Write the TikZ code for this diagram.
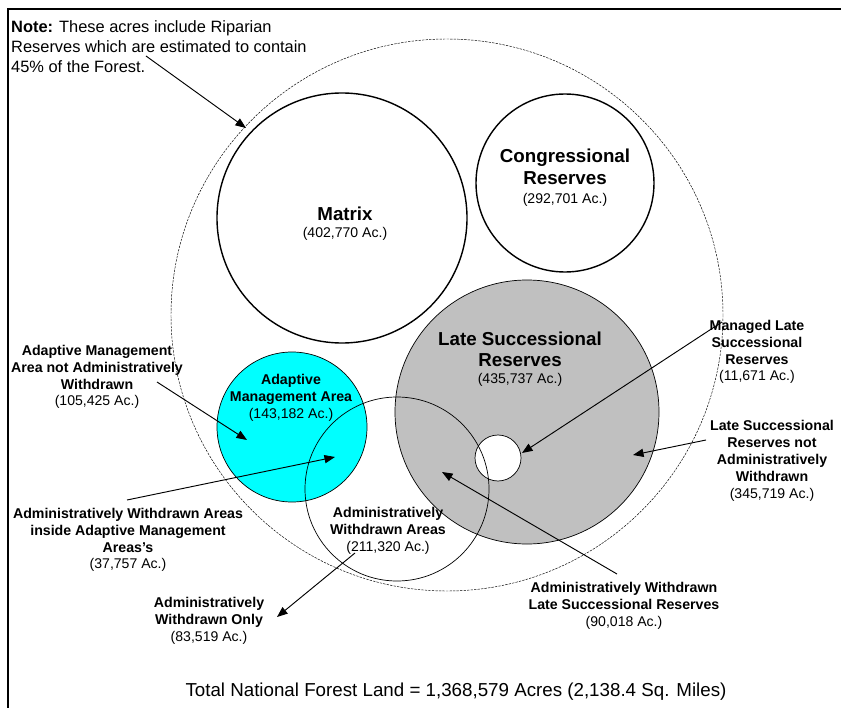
\documentclass[tikz,border=0pt]{standalone}
\usepackage{fontspec}
\setmainfont{Liberation Sans}
\usetikzlibrary{arrows.meta}

\definecolor{aqua}{RGB}{0,255,255}
\definecolor{silver}{RGB}{192,192,192}

% acreage line under a label
\newcommand{\ac}[1]{{\mdseries\fontsize{12}{14}\selectfont(#1 Ac.)}}

\begin{document}
\begin{tikzpicture}[x=0.03cm, y=-0.03cm,
  lbl/.style={align=center, inner sep=0pt, font=\fontsize{12.1}{14.4}\selectfont\bfseries},
  big/.style={align=center, inner sep=0pt, font=\fontsize{16}{18.5}\selectfont\bfseries},
  ptr/.style={line width=.8pt, -{Triangle[length=9pt,width=7pt]}}]

\useasboundingbox (0,0) rectangle (841,708);
\draw [line width=2pt] (8,708) -- (8,9) -- (841,9);

% the forest and its allocations
\draw [line width=.4pt, dash pattern=on 2pt off 1pt] (447,315) circle (276);
\draw [line width=1.2pt] (342,218) circle (125);
\draw [line width=1.2pt] (565,183) circle (89);
\draw [fill=silver, line width=.6pt] (527,412) circle (132);
\draw [fill=aqua, line width=.6pt] (292,427) circle (75);
\draw [fill=white, line width=.6pt] (498,458) circle (23);
\draw [line width=.6pt] (397,489) circle (92);

% texts in the circles
\node [big] (matrix) at (345,224) {Matrix\\[-4pt]\ac{402,770}};
\node [big] (congr) at (565,178) {Congressional\\Reserves\\[-2pt]\ac{292,701}};
\node [big] (lsr) at (520,359) {Late Successional\\Reserves\\[-4pt]\ac{435,737}};
\node [lbl] (ama) at (291,398) {Adaptive\\Management Area\\\ac{143,182}};
\node [lbl] (aw) at (388,531) {Administratively\\Withdrawn Areas\\\ac{211,320}};

% texts outside
\node [anchor=north west, inner sep=0pt, align=left, font=\fontsize{14}{17.4}\selectfont] (note) at (11,20)
  {\textbf{Note:} These acres include Riparian\\Reserves which are estimated to contain\\45\% of the Forest.};
\node [lbl] (amanot) at (97,377) {Adaptive Management\\Area not Administratively\\Withdrawn\\\ac{105,425}};
\node [lbl] (awama) at (128,540) {Administratively Withdrawn Areas\\inside Adaptive Management\\Areas’s\\\ac{37,757}};
\node [lbl] (awonly) at (209,621) {Administratively\\Withdrawn Only\\\ac{83,519}};
\node [lbl] (mlsr) at (757,352) {Managed Late\\Successional\\Reserves\\\ac{11,671}};
\node [lbl] (lsrnot) at (772,461) {Late Successional\\Reserves not\\Administratively\\Withdrawn\\\ac{345,719}};
\node [lbl] (awlsr) at (624,606) {Administratively Withdrawn\\Late Successional Reserves\\\ac{90,018}};
\node [font=\fontsize{16}{18}\selectfont] (total) at (456,692) {Total National Forest Land = 1,368,579 Acres (2,138.4 Sq. Miles)};

% pointers
\coordinate (notefrom) at (146,56);   \coordinate (noteto) at (246,128);
\coordinate (amanotfrom) at (157,382); \coordinate (amanotto) at (247,440);
\coordinate (awamafrom) at (127,500);  \coordinate (awamato) at (335,457);
\coordinate (awonlyfrom) at (355,553); \coordinate (awonlyto) at (277,617);
\coordinate (mlsrfrom) at (722,322);   \coordinate (mlsrto) at (522,453);
\coordinate (lsrnotfrom) at (706,440); \coordinate (lsrnotto) at (633,455);
\coordinate (awlsrfrom) at (617,574);  \coordinate (awlsrto) at (442,472);

\draw [ptr] (notefrom) -- (noteto);
\draw [ptr] (amanotfrom) -- (amanotto);
\draw [ptr] (awamafrom) -- (awamato);
\draw [ptr] (awonlyfrom) -- (awonlyto);
\draw [ptr] (mlsrfrom) -- (mlsrto);
\draw [ptr] (lsrnotfrom) -- (lsrnotto);
\draw [ptr] (awlsrfrom) -- (awlsrto);

\end{tikzpicture}
\end{document}
